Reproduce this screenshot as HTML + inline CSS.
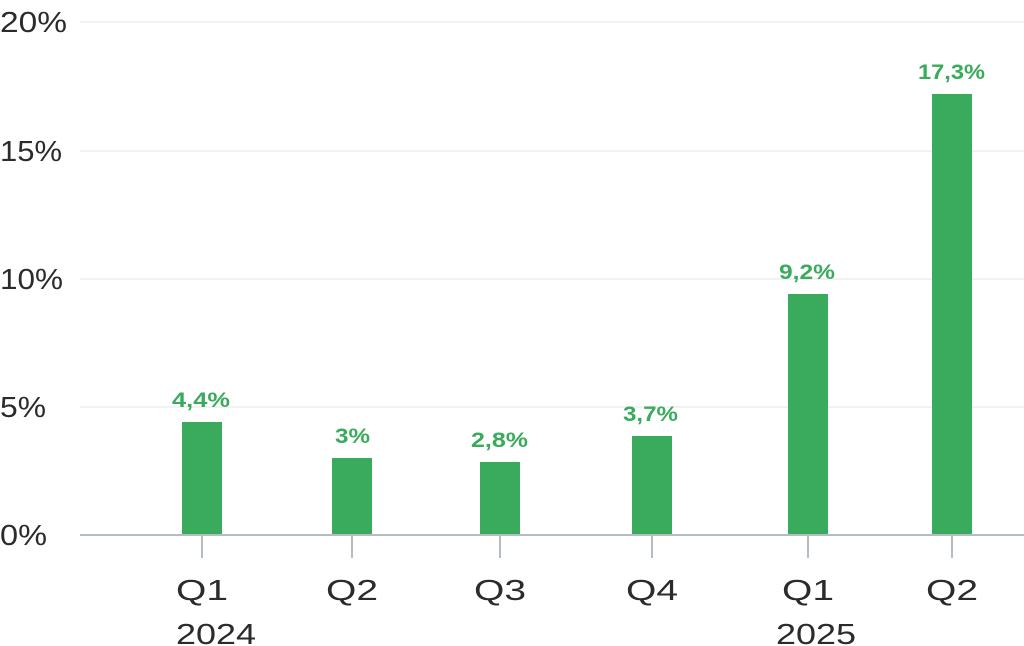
<!DOCTYPE html>
<html><head><style>
html,body{margin:0;padding:0;background:#fff;}
svg{display:block;font-family:"Liberation Sans",sans-serif;}
</style></head><body>
<svg width="1024" height="646" viewBox="0 0 1024 646">
<g stroke="#eeeeee" stroke-width="1.5">
<line x1="80" y1="22" x2="1024" y2="22"/>
<line x1="80" y1="151" x2="1024" y2="151"/>
<line x1="80" y1="279" x2="1024" y2="279"/>
<line x1="80" y1="407" x2="1024" y2="407"/>
</g>
<g font-size="29" fill="#2b2b2b">
<text x="0" y="32" textLength="67" lengthAdjust="spacingAndGlyphs">20%</text>
<text x="0" y="161" textLength="62" lengthAdjust="spacingAndGlyphs">15%</text>
<text x="0" y="289" textLength="63" lengthAdjust="spacingAndGlyphs">10%</text>
<text x="0" y="417" textLength="46" lengthAdjust="spacingAndGlyphs">5%</text>
<text x="0" y="545" textLength="47" lengthAdjust="spacingAndGlyphs">0%</text>
</g>
<g fill="#3aaa5c">
<rect x="182" y="422" width="40" height="113"/>
<rect x="332" y="458" width="40" height="77"/>
<rect x="480" y="462" width="40" height="73"/>
<rect x="632" y="436" width="40" height="99"/>
<rect x="788" y="294" width="40" height="241"/>
<rect x="932" y="94" width="40" height="441"/>
</g>
<line x1="80" y1="535" x2="1024" y2="535" stroke="#b4bcc4" stroke-width="2"/>
<g stroke="#b4bcc4" stroke-width="2">
<line x1="202" y1="535" x2="202" y2="558"/>
<line x1="352" y1="535" x2="352" y2="558"/>
<line x1="500" y1="535" x2="500" y2="558"/>
<line x1="652" y1="535" x2="652" y2="558"/>
<line x1="808" y1="535" x2="808" y2="558"/>
<line x1="952" y1="535" x2="952" y2="558"/>
</g>
<g font-size="21" font-weight="bold" fill="#3aaa5c">
<text x="172" y="407" textLength="58" lengthAdjust="spacingAndGlyphs">4,4%</text>
<text x="335" y="443" textLength="35" lengthAdjust="spacingAndGlyphs">3%</text>
<text x="471" y="447" textLength="57" lengthAdjust="spacingAndGlyphs">2,8%</text>
<text x="623" y="421" textLength="55" lengthAdjust="spacingAndGlyphs">3,7%</text>
<text x="779" y="279" textLength="56" lengthAdjust="spacingAndGlyphs">9,2%</text>
<text x="918" y="79" textLength="67" lengthAdjust="spacingAndGlyphs">17,3%</text>
</g>
<g font-size="29" fill="#2b2b2b">
<text x="176" y="600" textLength="52" lengthAdjust="spacingAndGlyphs">Q1</text>
<text x="326" y="600" textLength="52" lengthAdjust="spacingAndGlyphs">Q2</text>
<text x="474" y="600" textLength="52" lengthAdjust="spacingAndGlyphs">Q3</text>
<text x="626" y="600" textLength="52" lengthAdjust="spacingAndGlyphs">Q4</text>
<text x="782" y="600" textLength="52" lengthAdjust="spacingAndGlyphs">Q1</text>
<text x="926" y="600" textLength="52" lengthAdjust="spacingAndGlyphs">Q2</text>
<text x="176" y="644" textLength="80" lengthAdjust="spacingAndGlyphs">2024</text>
<text x="776" y="644" textLength="80" lengthAdjust="spacingAndGlyphs">2025</text>
</g>
</svg>
</body></html>
